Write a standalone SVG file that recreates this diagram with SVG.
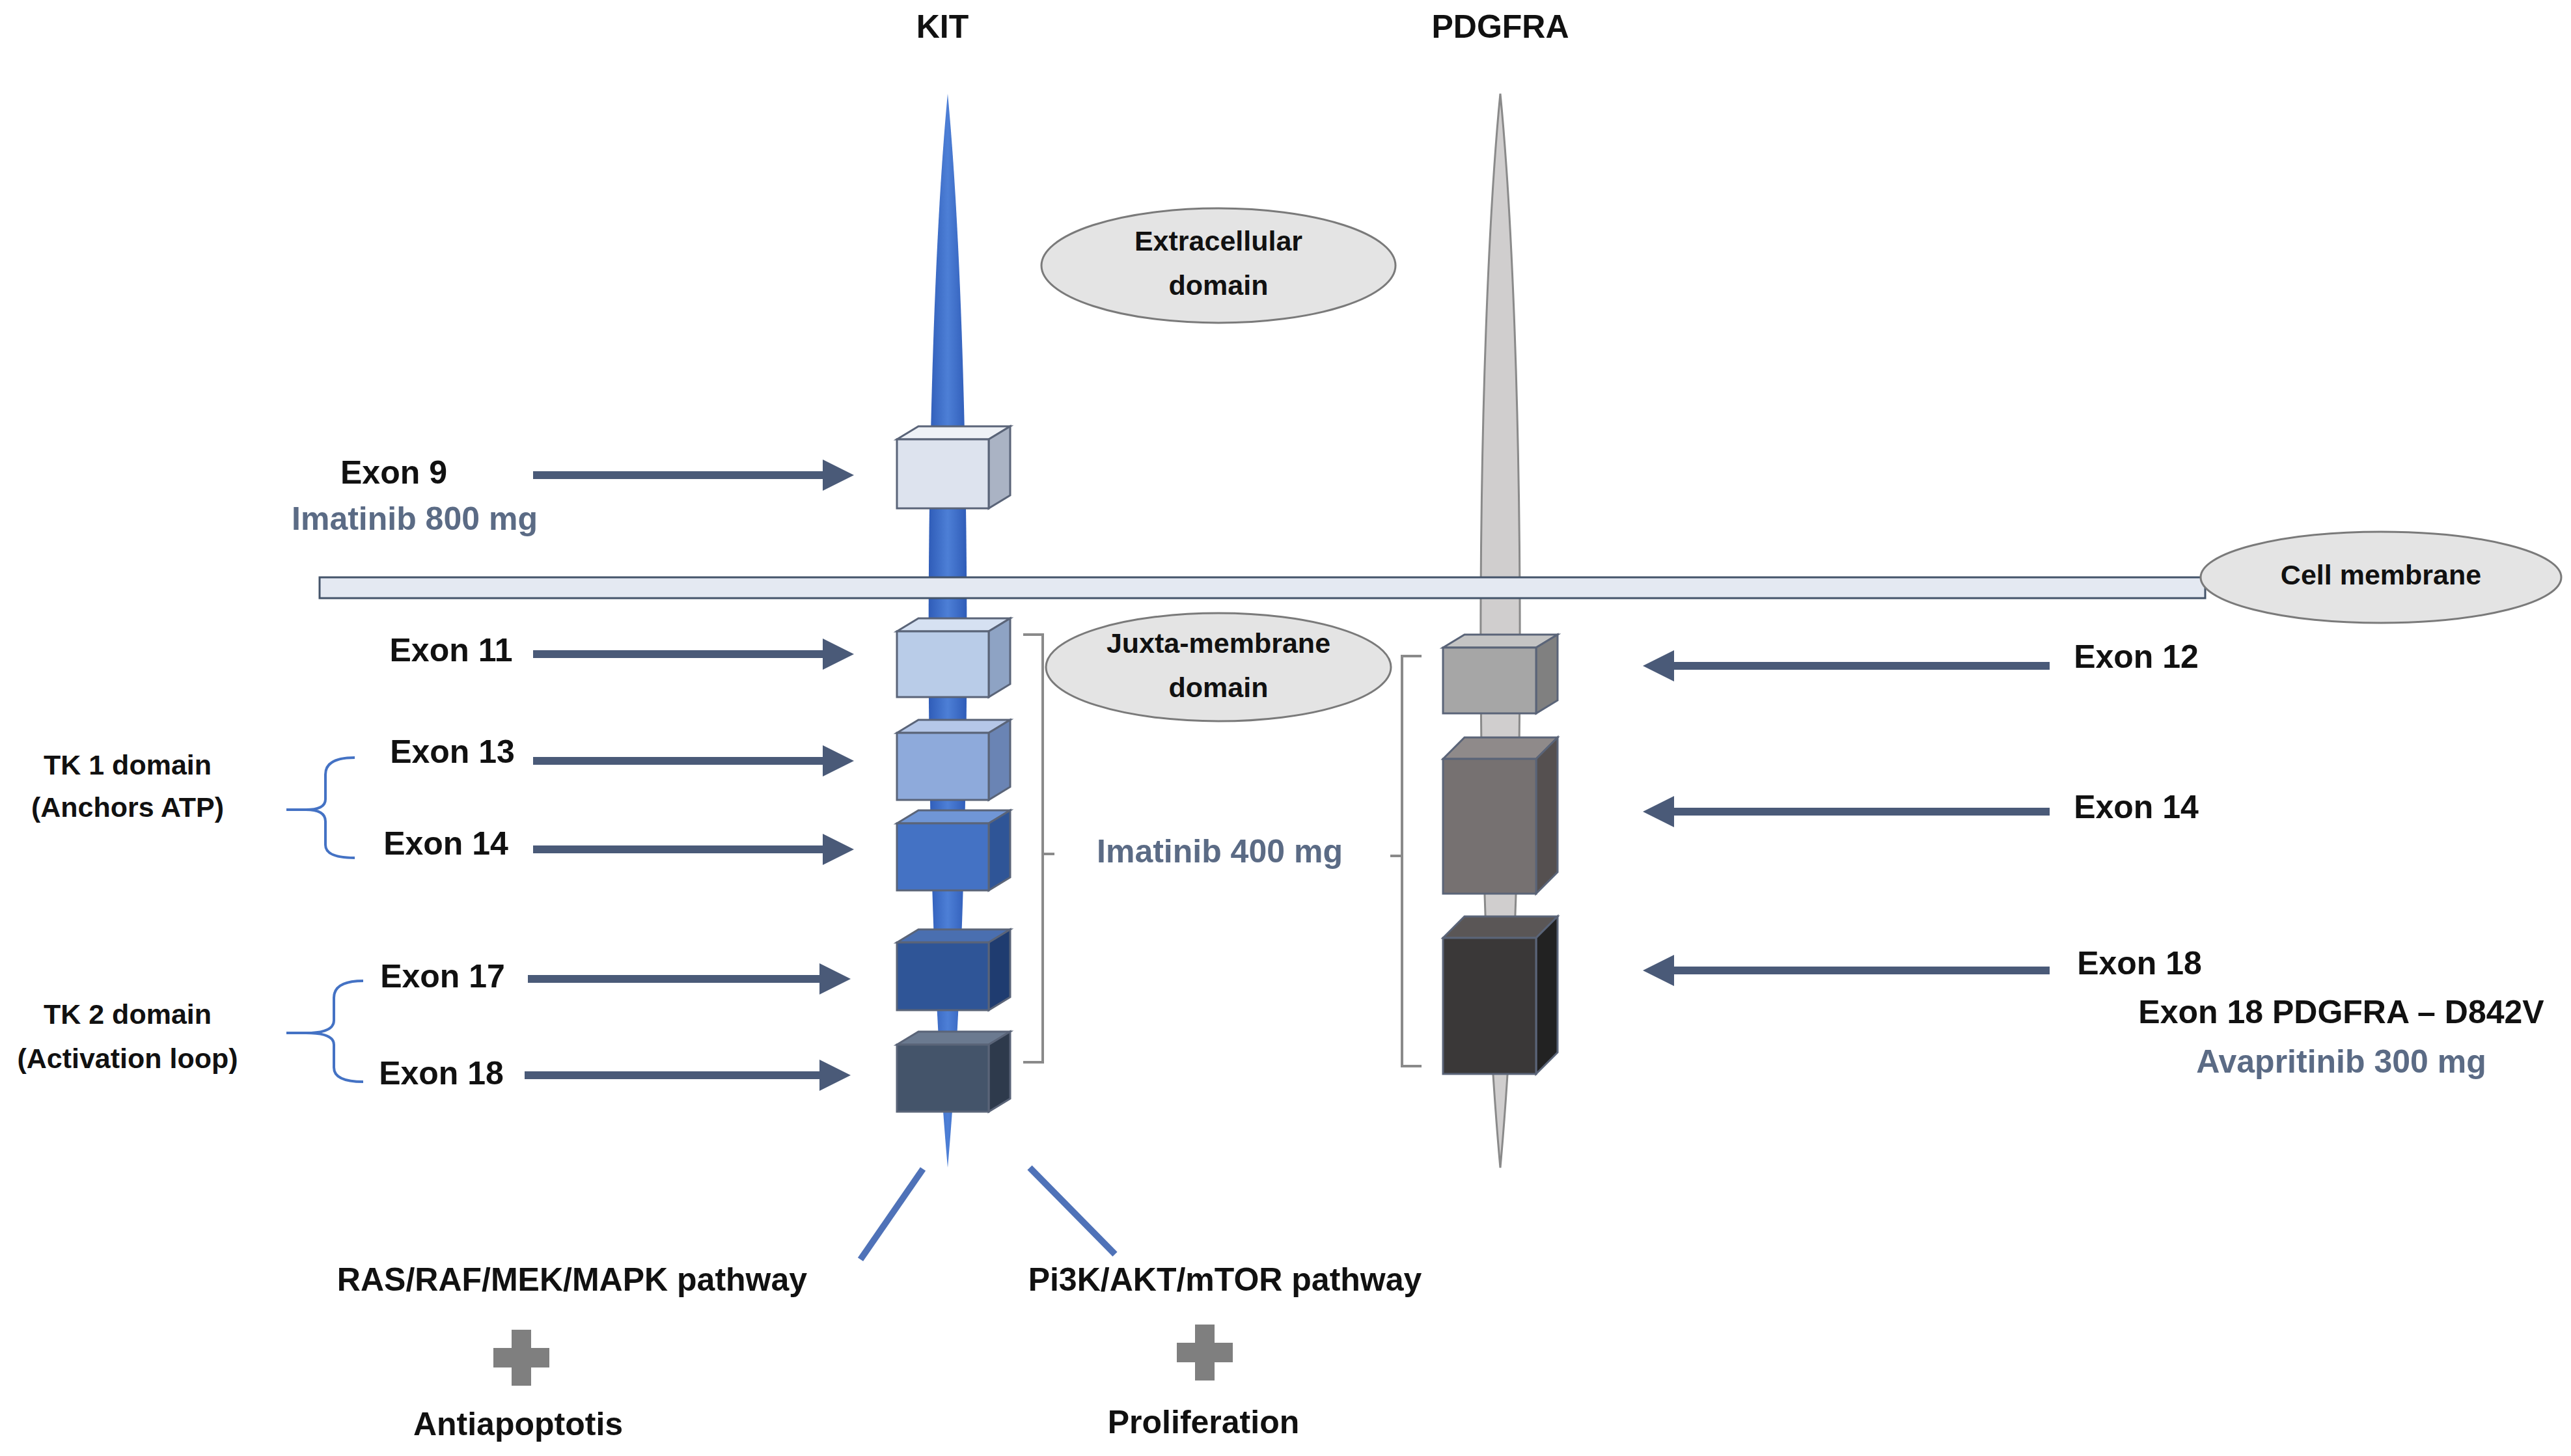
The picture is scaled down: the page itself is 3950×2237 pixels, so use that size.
<svg xmlns="http://www.w3.org/2000/svg" width="3950" height="2237" viewBox="0 0 3950 2237">
<style>
text{font-family:"Liberation Sans",Arial,sans-serif;font-weight:bold;fill:#111;text-anchor:middle;dominant-baseline:middle}
.t{font-size:50px}
.s{font-size:43px}
.d{fill:#5b6b85}
.arr{stroke:#4a5a78;stroke-width:12;fill:none}
.br{stroke:#8a8a8a;stroke-width:4;fill:none}
.bb{stroke:#4472c4;stroke-width:4;fill:none}
.el{fill:#e4e4e4;stroke:#7a7a7a;stroke-width:3}
.cube{stroke:#5a6478;stroke-width:3}
</style>
<defs>
<marker id="ah" markerWidth="4" markerHeight="4" refX="3" refY="2" orient="auto" markerUnits="strokeWidth"><path d="M0,0 L4,2 L0,4 z" fill="#4a5a78"/></marker>
<linearGradient id="kg" x1="0" x2="1"><stop offset="0" stop-color="#2f5cb8"/><stop offset="0.5" stop-color="#4d7fd6"/><stop offset="1" stop-color="#2f5cb8"/></linearGradient>
</defs>
<g id="kit">
<path d="M1456 144 C1490 500 1500 1300 1456 1794 C1412 1300 1422 500 1456 144 Z" fill="url(#kg)"/>
<text class="t" x="1448" y="45">KIT</text>
</g>
<g id="pdgfra">
<path d="M2305 144 C2340 500 2350 1300 2305 1794 C2260 1300 2270 500 2305 144 Z" fill="#d0cece" stroke="#8a8a8a" stroke-width="3"/>
<text class="t" x="2305" y="45">PDGFRA</text>
</g>
<g id="membrane">
<rect x="491" y="887" width="2897" height="32" fill="#e4e9f2" stroke="#44546a" stroke-width="3"/>
<ellipse class="el" cx="3658" cy="887" rx="277" ry="70"/>
<text class="s" x="3658" y="887">Cell membrane</text>
</g>
<g id="extracellular">
<ellipse class="el" cx="1872" cy="408" rx="272" ry="88"/>
<text class="s" x="1872" y="374">Extracellular</text><text class="s" x="1872" y="442">domain</text>
</g>
<g id="juxta">
<ellipse class="el" cx="1872" cy="1025" rx="265" ry="83"/>
<text class="s" x="1872" y="992">Juxta-membrane</text><text class="s" x="1872" y="1060">domain</text>
</g>
<g id="kit-exons">
<g id="k9"><path class="cube" d="M1378 675 L1411 655 L1552 655 L1519 675 Z" fill="#eef1f6"/><path class="cube" d="M1519 675 L1552 655 L1552 761 L1519 781 Z" fill="#aab3c4"/><rect class="cube" x="1378" y="675" width="141" height="106" fill="#dde3ee"/></g>
<g id="k11"><path class="cube" d="M1378 970 L1411 950 L1552 950 L1519 970 Z" fill="#d6e1f2"/><path class="cube" d="M1519 970 L1552 950 L1552 1051 L1519 1071 Z" fill="#8ea3c4"/><rect class="cube" x="1378" y="970" width="141" height="101" fill="#b9cce8"/></g>
<g id="k13"><path class="cube" d="M1378 1126 L1411 1106 L1552 1106 L1519 1126 Z" fill="#b5c7e8"/><path class="cube" d="M1519 1126 L1552 1106 L1552 1209 L1519 1229 Z" fill="#6a84b4"/><rect class="cube" x="1378" y="1126" width="141" height="103" fill="#8eaadb"/></g>
<g id="k14"><path class="cube" d="M1378 1265 L1411 1245 L1552 1245 L1519 1265 Z" fill="#7096d6"/><path class="cube" d="M1519 1265 L1552 1245 L1552 1348 L1519 1368 Z" fill="#2f5597"/><rect class="cube" x="1378" y="1265" width="141" height="103" fill="#4472c4"/></g>
<g id="k17"><path class="cube" d="M1378 1448 L1411 1428 L1552 1428 L1519 1448 Z" fill="#4a6fb0"/><path class="cube" d="M1519 1448 L1552 1428 L1552 1532 L1519 1552 Z" fill="#1f3c70"/><rect class="cube" x="1378" y="1448" width="141" height="104" fill="#2f5597"/></g>
<g id="k18"><path class="cube" d="M1378 1605 L1411 1585 L1552 1585 L1519 1605 Z" fill="#6b7a90"/><path class="cube" d="M1519 1605 L1552 1585 L1552 1688 L1519 1708 Z" fill="#2e3a4c"/><rect class="cube" x="1378" y="1605" width="141" height="103" fill="#44546a"/></g>
</g>
<g id="pdgfra-exons">
<g id="p12"><path class="cube" d="M2217 995 L2250 975 L2393 975 L2360 995 Z" fill="#c4c4c4"/><path class="cube" d="M2360 995 L2393 975 L2393 1076 L2360 1096 Z" fill="#808080"/><rect class="cube" x="2217" y="995" width="143" height="101" fill="#a6a6a6"/></g>
<g id="p14"><path class="cube" d="M2217 1166 L2250 1133 L2393 1133 L2360 1166 Z" fill="#8f8a8a"/><path class="cube" d="M2360 1166 L2393 1133 L2393 1340 L2360 1373 Z" fill="#555050"/><rect class="cube" x="2217" y="1166" width="143" height="207" fill="#767171"/></g>
<g id="p18"><path class="cube" d="M2217 1441 L2250 1408 L2393 1408 L2360 1441 Z" fill="#5a5656"/><path class="cube" d="M2360 1441 L2393 1408 L2393 1617 L2360 1650 Z" fill="#222"/><rect class="cube" x="2217" y="1441" width="143" height="209" fill="#3a3838"/></g>
</g>
<g id="connectors">
<line class="arr" x1="819" y1="730" x2="1300" y2="730" marker-end="url(#ah)"/>
<line class="arr" x1="819" y1="1005" x2="1300" y2="1005" marker-end="url(#ah)"/>
<line class="arr" x1="819" y1="1169" x2="1300" y2="1169" marker-end="url(#ah)"/>
<line class="arr" x1="819" y1="1305" x2="1300" y2="1305" marker-end="url(#ah)"/>
<line class="arr" x1="811" y1="1504" x2="1295" y2="1504" marker-end="url(#ah)"/>
<line class="arr" x1="806" y1="1652" x2="1295" y2="1652" marker-end="url(#ah)"/>
<line class="arr" x1="3149" y1="1023" x2="2536" y2="1023" marker-end="url(#ah)"/>
<line class="arr" x1="3149" y1="1247" x2="2536" y2="1247" marker-end="url(#ah)"/>
<line class="arr" x1="3149" y1="1491" x2="2536" y2="1491" marker-end="url(#ah)"/>
<line x1="1418" y1="1796" x2="1322" y2="1935" stroke="#4f72b8" stroke-width="10"/>
<line x1="1582" y1="1794" x2="1713" y2="1927" stroke="#4f72b8" stroke-width="10"/>
<path class="br" d="M1572 975 L1602 975 L1602 1632 L1572 1632 M1602 1312 L1620 1312"/>
<path class="br" d="M2184 1008 L2154 1008 L2154 1638 L2184 1638 M2154 1315 L2136 1315"/>
<path class="bb" d="M545 1164 Q500 1164 500 1190 L500 1228 Q500 1244 470 1244 L440 1244 M470 1244 Q500 1244 500 1262 L500 1298 Q500 1318 545 1318"/>
<path class="bb" d="M558 1507 Q513 1507 513 1533 L513 1568 Q513 1587 470 1587 L440 1587 M470 1587 Q513 1587 513 1605 L513 1640 Q513 1662 558 1662"/>
</g>
<g id="labels">
<text class="t" x="605" y="730">Exon 9</text>
<text class="t d" x="637" y="801">Imatinib 800 mg</text>
<text class="t" x="693" y="1003">Exon 11</text>
<text class="t" x="695" y="1159">Exon 13</text>
<text class="t" x="685" y="1300">Exon 14</text>
<text class="t" x="680" y="1504">Exon 17</text>
<text class="t" x="678" y="1653">Exon 18</text>
<text class="s" x="196" y="1179">TK 1 domain</text>
<text class="s" x="196" y="1244">(Anchors ATP)</text>
<text class="s" x="196" y="1562">TK 2 domain</text>
<text class="s" x="196" y="1630">(Activation loop)</text>
<text class="t d" x="1874" y="1312">Imatinib 400 mg</text>
<text class="t" x="3282" y="1013">Exon 12</text>
<text class="t" x="3282" y="1244">Exon 14</text>
<text class="t" x="3287" y="1484">Exon 18</text>
<text class="t" x="3597" y="1559">Exon 18 PDGFRA – D842V</text>
<text class="t d" x="3597" y="1635">Avapritinib 300 mg</text>
<text class="t" x="879" y="1970">RAS/RAF/MEK/MAPK pathway</text>
<text class="t" x="1882" y="1970">Pi3K/AKT/mTOR pathway</text>
<text class="t" x="796" y="2192">Antiapoptotis</text>
<text class="t" x="1849" y="2189">Proliferation</text>
</g>
<g id="plus" fill="#7f7f7f">
<path d="M786 2043 h30 v28 h28 v30 h-28 v28 h-30 v-28 h-28 v-30 h28 z"/>
<path d="M1836 2035 h30 v28 h28 v30 h-28 v28 h-30 v-28 h-28 v-30 h28 z"/>
</g>
</svg>
